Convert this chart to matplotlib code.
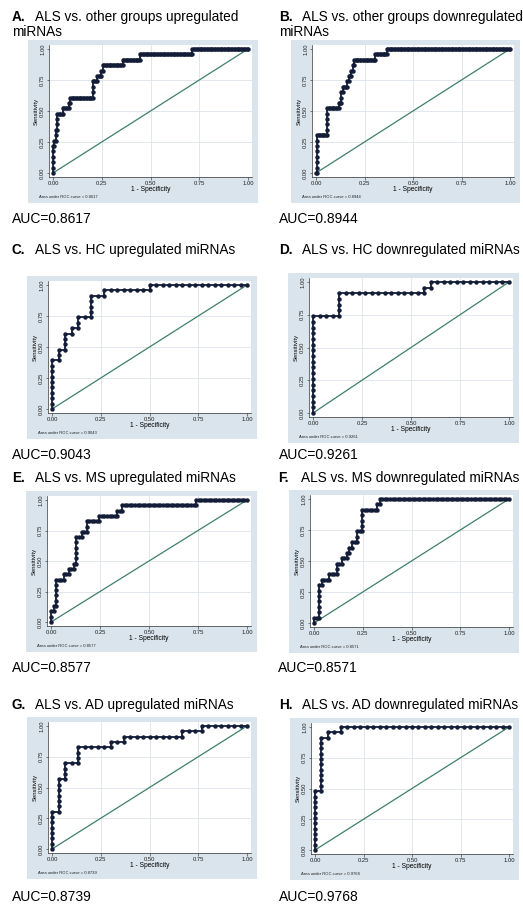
import matplotlib.pyplot as plt
from matplotlib.patches import Rectangle
import numpy as np

plt.rcParams['font.family'] = ['Liberation Sans', 'DejaVu Sans']

W, H = 523, 906

letters = ['A.', 'B.', 'C.', 'D.', 'E.', 'F.', 'G.', 'H.']
titles = ['ALS vs. other groups upregulated\nmiRNAs',
          'ALS vs. other groups downregulated\nmiRNAs',
          'ALS vs. HC upregulated miRNAs',
          'ALS vs. HC downregulated miRNAs',
          'ALS vs. MS upregulated miRNAs',
          'ALS vs. MS downregulated miRNAs',
          'ALS vs. AD upregulated miRNAs',
          'ALS vs. AD downregulated miRNAs']
auc = ['0.8617', '0.8944', '0.9043', '0.9261', '0.8577', '0.8571', '0.8739', '0.9768']

# group sizes (ALS = positives, comparison group = negatives)
n_pos = [23, 23, 23, 23, 23, 23, 23, 23]
n_neg = [137, 137, 30, 30, 77, 77, 30, 30]

# ROC step corners, in counts: false positives / true positives
a_fp = [0, 0, 1, 1, 2, 2, 3, 3, 7, 7, 11, 11, 12, 12, 28, 28, 31, 31, 34, 34, 35, 35, 49, 49, 61, 61, 98, 98, 137]
a_tp = [0, 5, 5, 6, 6, 8, 8, 11, 11, 12, 12, 13, 13, 14, 14, 17, 17, 18, 18, 19, 19, 20, 20, 21, 21, 22, 22, 23, 23]
b_fp = [0, 1, 1, 8, 8, 16, 16, 18, 18, 19, 19, 22, 22, 23, 23, 25, 25, 26, 26, 27, 27, 42, 42, 50, 50, 137]
b_tp = [0, 0, 7, 7, 12, 12, 13, 13, 15, 15, 16, 16, 17, 17, 18, 18, 19, 19, 20, 20, 21, 21, 22, 22, 23, 23]
c_fp = [0, 0, 1, 1, 2, 2, 3, 3, 4, 4, 6, 6, 8, 8, 15, 15, 30]
c_tp = [0, 9, 9, 11, 11, 14, 14, 15, 15, 17, 17, 21, 21, 22, 22, 23, 23]
d_fp = [0, 0, 4, 4, 17, 17, 18, 18, 30]
d_tp = [0, 17, 17, 21, 21, 22, 22, 23, 23]
e_fp = [0, 0, 1, 1, 2, 2, 5, 5, 7, 7, 9, 9, 10, 10, 12, 12, 14, 14, 19, 19, 26, 26, 28, 28, 57, 57, 77]
e_tp = [0, 2, 2, 3, 3, 8, 8, 9, 9, 10, 10, 11, 11, 16, 16, 17, 17, 19, 19, 20, 20, 21, 21, 22, 22, 23, 23]
f_fp = [0, 0, 2, 2, 3, 3, 6, 6, 9, 9, 11, 11, 13, 13, 14, 14, 15, 15, 17, 17, 19, 19, 25, 25, 26, 26, 77]
f_tp = [0, 1, 1, 7, 7, 8, 8, 9, 9, 11, 11, 12, 12, 13, 13, 14, 14, 15, 15, 17, 17, 21, 21, 22, 22, 23, 23]
g_fp = [0, 0, 1, 1, 2, 2, 4, 4, 9, 9, 11, 11, 20, 20, 23, 23, 30]
g_tp = [0, 7, 7, 13, 13, 16, 16, 19, 19, 20, 20, 21, 21, 22, 22, 23, 23]
h_fp = [0, 0, 1, 1, 2, 2, 4, 4, 30]
h_tp = [0, 11, 11, 21, 21, 22, 22, 23, 23]

roc_fp = [a_fp, b_fp, c_fp, d_fp, e_fp, f_fp, g_fp, h_fp]
roc_tp = [a_tp, b_tp, c_tp, d_tp, e_tp, f_tp, g_tp, h_tp]

ticks = [0, 0.25, 0.5, 0.75, 1]
tick_labels = ['0.00', '0.25', '0.50', '0.75', '1.00']

# pixel position of data (0,0)-(1,1) in each panel
px_x0 = [53, 316, 52, 313, 51, 314, 52, 315]
px_x1 = [248, 510, 247, 509, 247, 509, 247, 509]
px_y1 = [49, 49, 285, 282, 500, 499, 726, 727]
px_y0 = [173, 173, 409, 413, 622, 623, 849, 850]
lab_x = [12, 279, 12, 279, 12, 278, 12, 279]
title_y = [17, 17, 250, 250, 478, 478, 705, 705]
auc_y = [219, 219, 455, 455, 668, 668, 897, 897]

bg = '#d9e4ec'
navy = '#141d38'
green = '#3f8066'


def roc_points(fp, tp):
    # one operating point per case along the step curve
    xs, ys = [fp[0]], [tp[0]]
    for i in range(1, len(fp)):
        dx = fp[i] - fp[i - 1]
        dy = tp[i] - tp[i - 1]
        for k in range(1, dx + dy + 1):
            xs.append(fp[i - 1] + (k if dx else 0))
            ys.append(tp[i - 1] + (k if dy else 0))
    return np.array(xs), np.array(ys)


fig = plt.figure(figsize=(W / 100, H / 100), dpi=100)

for i in range(8):
    x0, x1, y1, y0 = px_x0[i], px_x1[i], px_y1[i], px_y0[i]
    w = x1 - x0
    h = y0 - y1

    # light blue graph region
    fig.patches.append(Rectangle(((x0 - 25) / W, 1 - (y0 + 30) / H), (w + 35) / W, (h + 39) / H,
                                 transform=fig.transFigure, facecolor=bg, edgecolor='none', zorder=-5))

    left = x0 - 0.02 * w
    right = x1 + 0.02 * w
    top = y1 - 0.03 * h
    bottom = y0 + 0.03 * h
    ax = fig.add_axes([left / W, 1 - bottom / H, (right - left) / W, (bottom - top) / H])
    ax.set_zorder(2)
    ax.set_facecolor('white')
    ax.set_xlim(-0.02, 1.02)
    ax.set_ylim(-0.03, 1.03)

    for g in ticks[1:-1]:
        ax.axhline(g, color='#dce3e9', lw=0.6, zorder=0)
        ax.axvline(g, color='#dce3e9', lw=0.6, zorder=0)

    ax.plot([0, 1], [0, 1], color=green, lw=0.9, zorder=1)
    fx, fy = roc_points(roc_fp[i], roc_tp[i])
    ax.plot(fx / n_neg[i], fy / n_pos[i], '-o', color=navy, lw=1.3, ms=3.2, mew=0, zorder=2)

    for s in ['top', 'right']:
        ax.spines[s].set_visible(False)
    for s in ['left', 'bottom']:
        ax.spines[s].set_linewidth(0.5)
        ax.spines[s].set_color('#333333')

    ax.set_xticks(ticks)
    ax.set_xticklabels(tick_labels)
    ax.set_yticks(ticks)
    ax.set_yticklabels(tick_labels, rotation=90, va='center')
    ax.tick_params(labelsize=4.2, length=1.8, width=0.4, pad=1, colors='#222222')
    ax.set_xlabel('1 - Specificity', fontsize=4.8, labelpad=0)
    ax.set_ylabel('Sensitivity', fontsize=4.2, labelpad=1)

    fig.text((x0 - 14) / W, 1 - (y0 + 24) / H, 'Area under ROC curve = ' + auc[i],
             fontsize=3, va='center', ha='left', color='#222222', zorder=3)

    # panel title
    fig.text(lab_x[i] / W, 1 - title_y[i] / H, letters[i], fontsize=9.8, fontweight='bold',
             va='center', ha='left')
    for j, line in enumerate(titles[i].split('\n')):
        xx = lab_x[i] + 23 if j == 0 else lab_x[i]
        fig.text(xx / W, 1 - (title_y[i] + 15 * j) / H, line, fontsize=9.8, va='center', ha='left')

    fig.text(lab_x[i] / W, 1 - auc_y[i] / H, 'AUC=' + auc[i], fontsize=10, va='center', ha='left')

fig.savefig('out.png', dpi=100)
